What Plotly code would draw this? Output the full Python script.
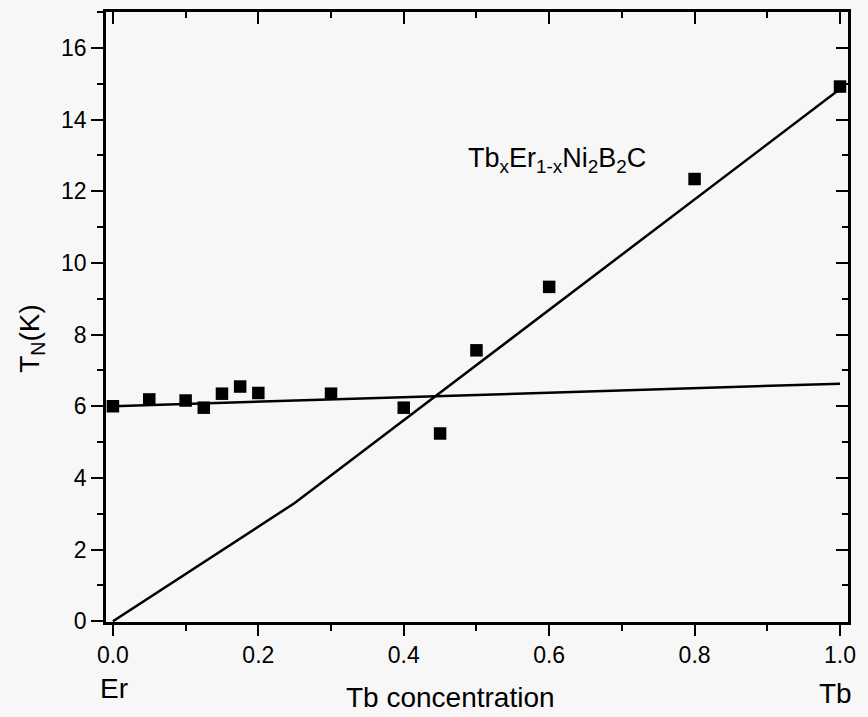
import plotly.graph_objects as go

# Data
x_tb = [0.0, 0.05, 0.1, 0.125, 0.15, 0.175, 0.2, 0.3, 0.4, 0.45, 0.5, 0.6, 0.8, 1.0]
tn_k = [6.0, 6.19, 6.16, 5.96, 6.35, 6.55, 6.37, 6.35, 5.96, 5.24, 7.56, 9.33, 12.34, 14.92]

er_line_x = [0.0, 1.0]
er_line_y = [6.0, 6.63]

tb_line_x = [0.0, 0.25, 1.0]
tb_line_y = [0.0, 3.3, 14.85]

x_tickvals = [0.0, 0.2, 0.4, 0.6, 0.8, 1.0]
x_ticktext = ["0.0", "0.2", "0.4", "0.6", "0.8", "1.0"]
y_tickvals = [0, 2, 4, 6, 8, 10, 12, 14, 16]

BG = "#f7f7f7"
FONT = "Liberation Sans, Arial, sans-serif"
XR = [-0.0095, 1.011]
YR = [-0.02, 17.0]
W, H = 868, 717
ML, MR, MT, MB = 106, 12, 12, 95
PW, PH = W - ML - MR, H - MT - MB

fig = go.Figure()
fig.add_trace(go.Scatter(x=er_line_x, y=er_line_y, mode="lines",
                         line=dict(color="black", width=2.5), showlegend=False))
fig.add_trace(go.Scatter(x=tb_line_x, y=tb_line_y, mode="lines",
                         line=dict(color="black", width=2.5), showlegend=False))
fig.add_trace(go.Scatter(x=x_tb, y=tn_k, mode="markers",
                         marker=dict(symbol="square", size=12.5, color="black"),
                         showlegend=False, cliponaxis=False))

axis_common = dict(showgrid=False, zeroline=False, showline=True, linecolor="black",
                   linewidth=2.5, tickcolor="black", tickwidth=2)

fig.update_layout(
    width=W, height=H,
    margin=dict(l=ML, r=MR, t=MT, b=MB),
    paper_bgcolor=BG, plot_bgcolor=BG,
    font=dict(family=FONT, color="black", size=23),
    xaxis=dict(range=XR, tickvals=x_tickvals, ticktext=x_ticktext, ticks="outside",
               ticklen=11, minor=dict(dtick=0.1, tick0=0, ticks="outside", ticklen=6,
                                      tickcolor="black", tickwidth=2),
               tickfont=dict(size=23), **axis_common),
    yaxis=dict(range=YR, tickvals=y_tickvals, ticks="outside", ticklen=12,
               minor=dict(dtick=1, tick0=0, ticks="outside", ticklen=6,
                          tickcolor="black", tickwidth=2),
               tickfont=dict(size=23), **axis_common),
    xaxis2=dict(range=XR, overlaying="x", side="top", tickvals=x_tickvals,
                showticklabels=False, ticks="inside", ticklen=12,
                minor=dict(dtick=0.1, tick0=0, ticks="inside", ticklen=6,
                           tickcolor="black", tickwidth=2),
                **axis_common),
    yaxis2=dict(range=YR, overlaying="y", side="right", tickvals=y_tickvals,
                showticklabels=False, ticks="inside", ticklen=12,
                minor=dict(dtick=1, tick0=0, ticks="inside", ticklen=6,
                           tickcolor="black", tickwidth=2),
                **axis_common),
)

# invisible trace to anchor overlay axes
fig.add_trace(go.Scatter(x=[0.5], y=[5], xaxis="x2", yaxis="y2", mode="markers",
                         marker=dict(opacity=0), showlegend=False, hoverinfo="skip"))


def px_to_paper(px, py):
    return (px - ML) / PW, 1 - (py - MT) / PH


annots = [
    ("Tb<sub>x</sub>Er<sub>1-x</sub>Ni<sub>2</sub>B<sub>2</sub>C", 562, 160, 27, 0),
    ("Tb concentration", 454, 697, 28, 0),
    ("Er", 114, 688, 28, 0),
    ("Tb", 843, 693, 28, 0),
    ("T<sub>N</sub>(K)", 30, 338, 28, -90),
]
for text, px, py, size, ang in annots:
    ax, ay = px_to_paper(px, py)
    fig.add_annotation(text=text, x=ax, y=ay, xref="paper", yref="paper",
                       xanchor="center", yanchor="middle", textangle=ang,
                       showarrow=False, font=dict(family=FONT, color="black", size=size))

fig.write_html("out.html", config={"displayModeBar": False},
               post_script="document.body.style.margin='0';")
